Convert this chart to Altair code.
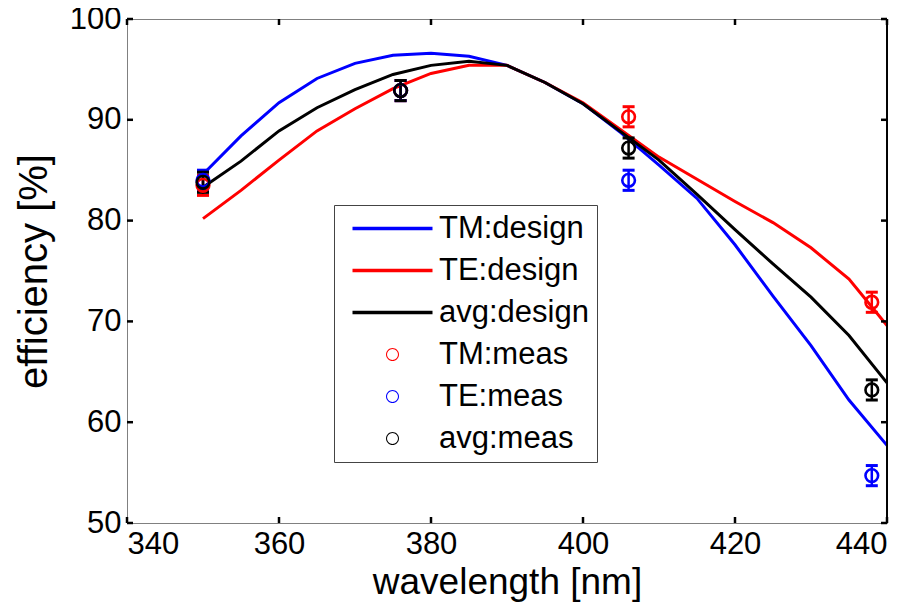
import math
import altair as alt
import pandas as pd

# ---------------- data ----------------
wavelength = [350, 355, 360, 365, 370, 375, 380, 385, 390, 395,
              400, 405, 410, 415, 420, 425, 430, 435, 440]
tm_design = [84.6, 88.4, 91.7, 94.1, 95.6, 96.4, 96.6, 96.3, 95.4, 93.7,
             91.6, 88.7, 85.5, 82.2, 77.6, 72.5, 67.6, 62.2, 57.7]
te_design = [80.2, 83.0, 86.0, 88.9, 91.1, 93.1, 94.6, 95.4, 95.4, 93.7,
             91.7, 89.0, 86.3, 84.1, 81.9, 79.8, 77.3, 74.2, 69.6]
avg_design = [83.3, 85.9, 88.9, 91.2, 93.0, 94.5, 95.4, 95.8, 95.4, 93.7,
              91.6, 88.8, 86.0, 82.6, 79.1, 75.7, 72.4, 68.6, 63.9]

meas_wavelength = [350, 376, 406, 438]
tm_meas = [83.5, 92.9, 90.3, 71.9]
te_meas = [84.0, 92.9, 84.0, 54.7]
avg_meas = [83.8, 92.9, 87.2, 63.2]
tm_err = [1.0, 1.0, 1.0, 1.0]
te_err = [1.0, 1.0, 1.0, 1.0]
avg_err = [1.0, 1.0, 1.0, 1.0]

x_ticks = [340, 360, 380, 400, 420, 440]
y_ticks = [50, 60, 70, 80, 90, 100]

series_names = ["TM:design", "TE:design", "avg:design", "TM:meas", "TE:meas", "avg:meas"]
series_colors = ["#0000ff", "#ff0000", "#000000", "#ff0000", "#0000ff", "#000000"]

# ---------------- tables ----------------
design_rows = []
for name, vals in zip(series_names[:3], [tm_design, te_design, avg_design]):
    for w, v in zip(wavelength, vals):
        design_rows.append({"wavelength": w, "efficiency": v, "series": name})
design_df = pd.DataFrame(design_rows)

meas_rows = []
for name, vals, errs in zip(series_names[3:], [tm_meas, te_meas, avg_meas], [tm_err, te_err, avg_err]):
    for w, v, e in zip(meas_wavelength, vals, errs):
        meas_rows.append({"wavelength": w, "efficiency": v, "lo": v - e, "hi": v + e, "series": name})
meas_df = pd.DataFrame(meas_rows)

xtick_df = pd.DataFrame({"v": x_ticks})
ytick_df = pd.DataFrame({"v": y_ticks})

FONT = "Liberation Sans"

xscale = alt.Scale(domain=[340, 440], nice=False, zero=False)
yscale = alt.Scale(domain=[50, 100], nice=False, zero=False)

# legend scale (full order) and a plotting scale in another order so the
# disabled stroke/fill guides are never merged into the visible legend
legend_color_scale = alt.Scale(domain=series_names, range=series_colors)
plot_order = series_names[3:] + series_names[:3]
plot_colors = series_colors[3:] + series_colors[:3]


def plot_scale():
    return alt.Scale(domain=plot_order, range=plot_colors)


def ring_path(r_out, r_in, n=32):
    pts_o = [(r_out * math.cos(2 * math.pi * k / n), r_out * math.sin(2 * math.pi * k / n)) for k in range(n)]
    pts_i = [(r_in * math.cos(-2 * math.pi * k / n), r_in * math.sin(-2 * math.pi * k / n)) for k in range(n)]
    p = "M" + "L".join(f"{x:.4f},{y:.4f}" for x, y in pts_o) + "Z"
    p += "M" + "L".join(f"{x:.4f},{y:.4f}" for x, y in pts_i) + "Z"
    return p


LINE = "M-3.077,-0.135L3.077,-0.135L3.077,0.135L-3.077,0.135Z"
RING = ring_path(0.5, 0.42)
shape_scale = alt.Scale(domain=series_names, range=[LINE, LINE, LINE, RING, RING, RING])

x_axis = alt.Axis(values=x_ticks, ticks=False, grid=False, domainColor="#808080",
                  labelFont=FONT, labelFontSize=31, labelColor="black", labelPadding=6,
                  title="wavelength [nm]", titleFont=FONT, titleFontSize=37,
                  titleFontWeight="normal", titleColor="black", titlePadding=5)
y_axis = alt.Axis(values=y_ticks, ticks=False, grid=False, domainColor="#808080",
                  labelFont=FONT, labelFontSize=31, labelColor="black", labelPadding=6,
                  title="efficiency [%]", titleFont=FONT, titleFontSize=40,
                  titleFontWeight="normal", titleColor="black", titlePadding=15)

legend_props = dict(orient="none", legendX=207, legendY=186, title=None,
                    symbolSize=676, symbolOffset=35, labelOffset=31,
                    labelFont=FONT, labelFontSize=31, labelColor="black",
                    rowPadding=10, padding=8, strokeColor="#444444",
                    fillColor="white", symbolStrokeWidth=0, labelLimit=400)


def X(f):
    return alt.X(f, type="quantitative", scale=xscale, axis=x_axis)


def Y(f):
    return alt.Y(f, type="quantitative", scale=yscale, axis=y_axis)


def stroke_enc():
    return alt.Stroke("series:N", scale=plot_scale(), legend=None)


def fill_enc():
    return alt.Fill("series:N", scale=plot_scale(), legend=None)


lines = alt.Chart(design_df).mark_line(strokeWidth=3).encode(
    x=X("wavelength"), y=Y("efficiency"), stroke=stroke_enc(),
)
err_rules = alt.Chart(meas_df).mark_rule(strokeWidth=2.5).encode(
    x=X("wavelength"), y=Y("lo"), y2="hi", stroke=stroke_enc(),
)
caps_lo = alt.Chart(meas_df).mark_tick(orient="horizontal", size=12, thickness=3, opacity=1).encode(
    x=X("wavelength"), y=Y("lo"), fill=fill_enc(),
)
caps_hi = alt.Chart(meas_df).mark_tick(orient="horizontal", size=12, thickness=3, opacity=1).encode(
    x=X("wavelength"), y=Y("hi"), fill=fill_enc(),
)
circles = alt.Chart(meas_df).mark_point(filled=False, size=160, strokeWidth=2.6, opacity=1).encode(
    x=X("wavelength"), y=Y("efficiency"), stroke=stroke_enc(),
)

legend_layer = alt.Chart(meas_df).transform_filter("false").mark_point(filled=True, opacity=1).encode(
    x=X("wavelength"), y=Y("efficiency"),
    color=alt.Color("series:N", scale=legend_color_scale, legend=alt.Legend(**legend_props)),
    shape=alt.Shape("series:N", scale=shape_scale, legend=alt.Legend(**legend_props)),
)

tick_style = dict(color="black", thickness=2.5, size=6, opacity=1)
ticks_bottom = alt.Chart(xtick_df).mark_tick(orient="vertical", yOffset=-3, **tick_style).encode(
    x=X("v"), y=alt.YDatum(50, scale=yscale, axis=y_axis))
ticks_top = alt.Chart(xtick_df).mark_tick(orient="vertical", yOffset=3, **tick_style).encode(
    x=X("v"), y=alt.YDatum(100, scale=yscale, axis=y_axis))
ticks_left = alt.Chart(ytick_df).mark_tick(orient="horizontal", xOffset=3, **tick_style).encode(
    y=Y("v"), x=alt.XDatum(340, scale=xscale, axis=x_axis))
ticks_right = alt.Chart(ytick_df).mark_tick(orient="horizontal", xOffset=-3, **tick_style).encode(
    y=Y("v"), x=alt.XDatum(440, scale=xscale, axis=x_axis))
right_border = alt.Chart(xtick_df).mark_rule(color="black", strokeWidth=1).encode(
    x=alt.XDatum(440, scale=xscale, axis=x_axis),
    y=alt.YDatum(50, scale=yscale, axis=y_axis), y2=alt.Y2Datum(100))

chart = alt.layer(
    lines, err_rules, caps_lo, caps_hi, circles, legend_layer,
    ticks_bottom, ticks_top, ticks_left, ticks_right, right_border
).properties(
    width=760, height=504,
    padding={"left": 119, "top": 11, "right": 23, "bottom": 87},
    autosize=alt.AutoSizeParams(type="none"),
    background="white",
).configure_view(stroke="#808080", strokeWidth=1)

chart.save("out.html", embed_options={"renderer": "svg", "actions": False})
